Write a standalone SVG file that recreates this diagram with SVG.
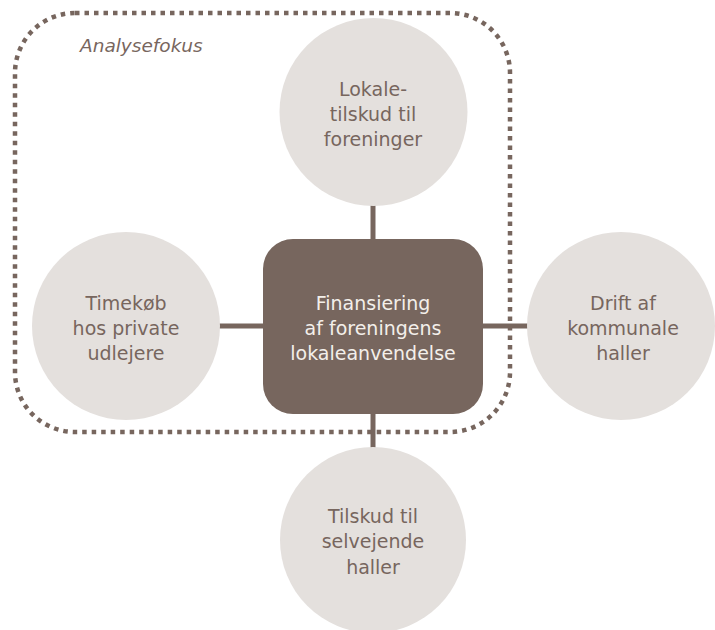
<svg xmlns="http://www.w3.org/2000/svg" width="715" height="630" viewBox="0 0 715 630">
<style>
.conn{stroke:#77665e;stroke-width:5;fill:none}
.sat{fill:#e4e0dd}
.st{font-family:"DejaVu Sans",Verdana,sans-serif;font-size:19px;fill:#77665e;text-anchor:middle}
.ct{font-family:"DejaVu Sans",Verdana,sans-serif;font-size:19px;fill:#f3efea;text-anchor:middle}
.focus{fill:none;stroke:#77665e;stroke-width:4.5;stroke-dasharray:4.5 5}
</style>
<rect width="715" height="630" fill="#ffffff"/>
<g id="connectors">
<line class="conn" x1="373" y1="205" x2="373" y2="241"/>
<line class="conn" x1="218" y1="326" x2="265" y2="326"/>
<line class="conn" x1="481" y1="326" x2="530" y2="326"/>
<line class="conn" x1="373" y1="412" x2="373" y2="449"/>
</g>
<g id="analysefokus">
<rect class="focus" x="15" y="13" width="495" height="419" rx="60" ry="60"/>
<text x="80" y="52" font-family="DejaVu Sans,Verdana,sans-serif" font-size="18.5" font-style="italic" fill="#77665e">Analysefokus</text>
</g>
<g id="center">
<rect x="263" y="239" width="220" height="175" rx="30" ry="30" fill="#77665e"/>
<text class="ct" x="373" y="310">Finansiering</text>
<text class="ct" x="373" y="335">af foreningens</text>
<text class="ct" x="373" y="360">lokaleanvendelse</text>
</g>
<g id="top">
<circle class="sat" cx="373.5" cy="112" r="94"/>
<text class="st" x="373" y="96">Lokale-</text>
<text class="st" x="373" y="121">tilskud til</text>
<text class="st" x="373" y="146">foreninger</text>
</g>
<g id="left">
<circle class="sat" cx="126" cy="326" r="94"/>
<text class="st" x="126" y="310">Timekøb</text>
<text class="st" x="126" y="335">hos private</text>
<text class="st" x="126" y="360">udlejere</text>
</g>
<g id="right">
<circle class="sat" cx="621" cy="326" r="94"/>
<text class="st" x="623" y="310">Drift af</text>
<text class="st" x="623" y="335">kommunale</text>
<text class="st" x="623" y="360">haller</text>
</g>
<g id="bottom">
<circle class="sat" cx="373" cy="540" r="93"/>
<text class="st" x="373" y="523">Tilskud til</text>
<text class="st" x="373" y="548">selvejende</text>
<text class="st" x="373" y="574">haller</text>
</g>
</svg>
